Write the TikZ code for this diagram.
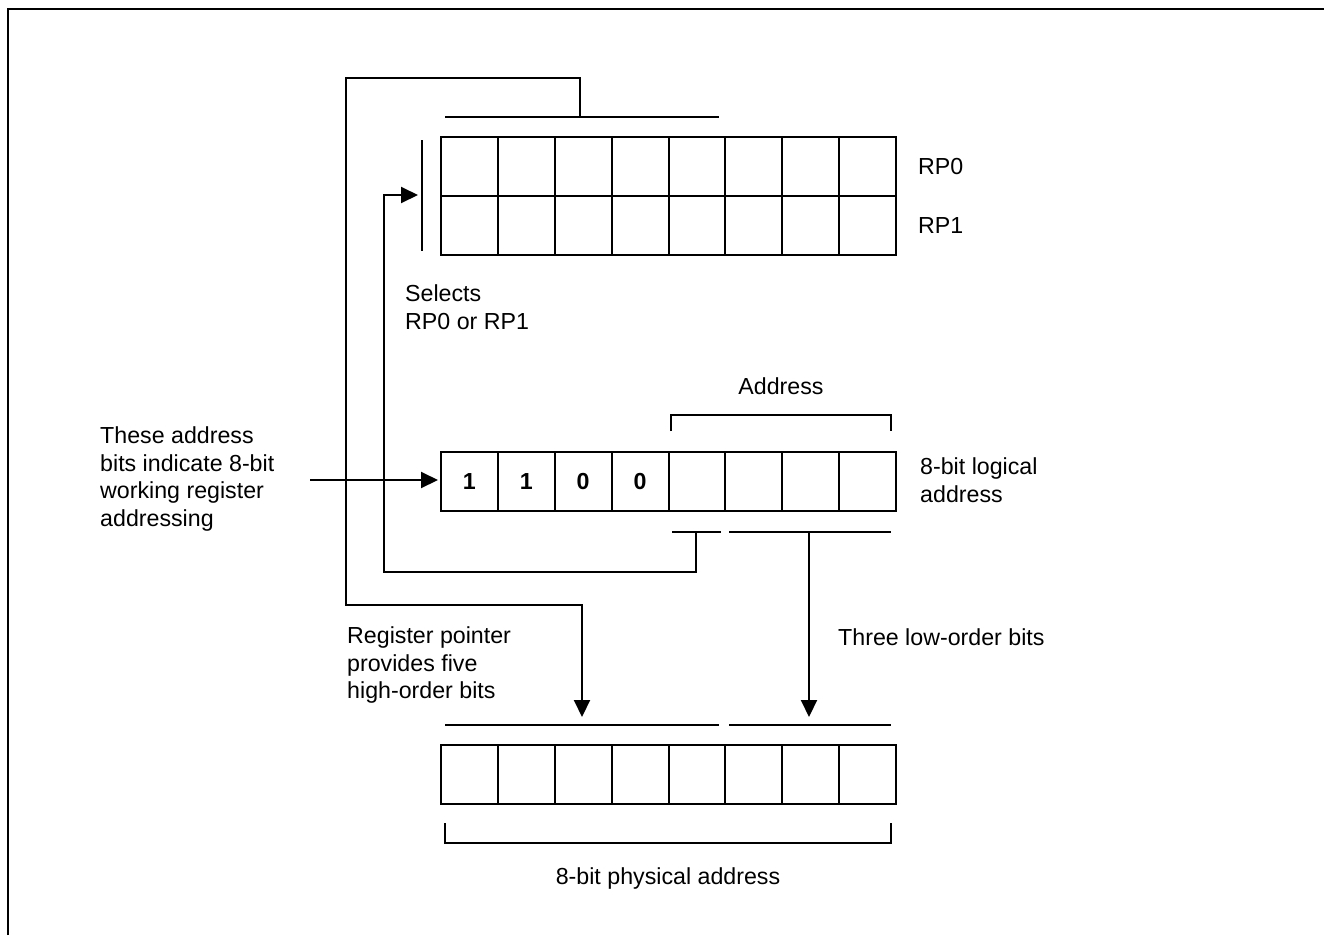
\documentclass[tikz,border=0pt]{standalone}
\usepackage{fontspec}
\setmainfont{Liberation Sans}
\usetikzlibrary{arrows.meta}
\begin{document}
\begin{tikzpicture}[x=1pt,y=-1pt,
  every node/.style={font=\fontsize{23.2}{27.5}\selectfont},
  cell/.style={draw,line width=2pt,minimum width=56.875pt,minimum height=59pt,inner sep=0pt,anchor=north west,font=\fontsize{23.2}{27.5}\selectfont\bfseries},
  wire/.style={line width=2pt},
  arr/.style={line width=2pt,-{Triangle[length=17pt,width=16pt]}},
  lbl/.style={inner sep=0pt,align=left,anchor=west}]
\useasboundingbox (0,0) rectangle (1324,935);
% frame
\draw[line width=2.6pt] (8,935) -- (8,9) -- (1324,9);
% registers
\foreach \i in {0,...,7}{
  \node[cell] (a\i) at ({440+56.875*\i},136) {};
  \node[cell] (b\i) at ({440+56.875*\i},195) {};
  \node[cell] (p\i) at ({440+56.875*\i},744) {};
}
\node[cell] (m0) at (440,451) {1};
\node[cell] (m1) at ({440+56.875},451) {1};
\node[cell] (m2) at ({440+56.875*2},451) {0};
\node[cell] (m3) at ({440+56.875*3},451) {0};
\foreach \i in {4,...,7}{\node[cell] (m\i) at ({440+56.875*\i},451) {};}
% labels
\node[lbl] (rp0) at (918,167) {RP0};
\node[lbl] (rp1) at (918,226) {RP1};
\node[lbl] (sel) at (405,307) {Selects\\RP0 or RP1};
\node[inner sep=0pt] (addr) at (781,386) {Address};
\node[lbl] (these) at (100,479) {These address\\bits indicate 8-bit\\working register\\addressing};
\node[lbl] (logic) at (920,480) {8-bit logical\\address};
\node[lbl] (regp) at (347,665) {Register pointer\\provides five\\high-order bits};
\node[lbl] (three) at (838,637) {Three low-order bits};
\node[inner sep=0pt] (phys) at (668,878) {8-bit physical address};
% coordinates
\coordinate (tb1) at (445,117); \coordinate (tb2) at (719,117);
\coordinate (tbm) at (580,117);
\coordinate (sb1) at (422,140); \coordinate (sb2) at (422,251);
\coordinate (selTip) at (418,195);
\coordinate (ml1) at (672,532); \coordinate (ml2) at (721,532);
\coordinate (mr1) at (729,532); \coordinate (mr2) at (891,532);
\coordinate (mlm) at (696,532); \coordinate (mrm) at (809,532);
\coordinate (pl1) at (445,725); \coordinate (pl2) at (719,725);
\coordinate (pr1) at (729,725); \coordinate (pr2) at (891,725);
\coordinate (hiTip) at (582,717); \coordinate (loTip) at (809,717);
\coordinate (inS) at (310,480); \coordinate (inT) at (438,480);
% bars
\draw[wire] (tb1) -- (tb2);
\draw[wire] (sb1) -- (sb2);
\draw[wire] (ml1) -- (ml2);
\draw[wire] (mr1) -- (mr2);
\draw[wire] (pl1) -- (pl2);
\draw[wire] (pr1) -- (pr2);
% brackets
\draw[wire] (671,431) -- (671,415) -- (891,415) -- (891,431);
\draw[wire] (445,823) -- (445,843) -- (891,843) -- (891,823);
% connectors
\draw[arr] (tbm) -- (580,78) -- (346,78) -- (346,605) -- (582,605) -- (hiTip);
\draw[arr] (mlm) -- (696,572) -- (384,572) -- (384,195) -- (selTip);
\draw[arr] (mrm) -- (loTip);
\draw[arr] (inS) -- (inT);
\end{tikzpicture}
\end{document}
